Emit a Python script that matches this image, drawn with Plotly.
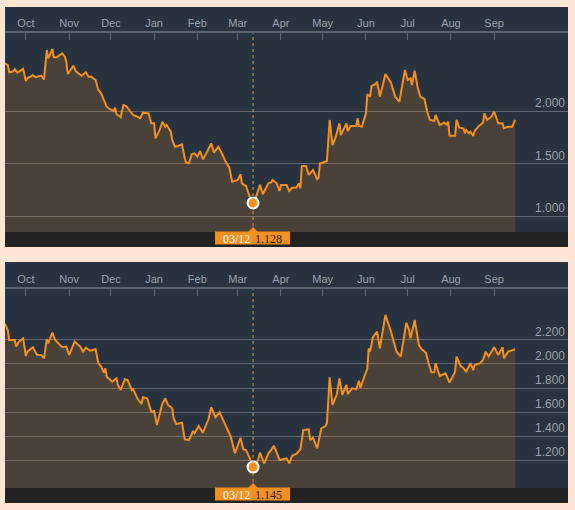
import plotly.graph_objects as go

# 数据
top_dates = [
    "2019-09-16", "2019-09-18", "2019-09-19", "2019-09-22", "2019-09-23", "2019-09-25", "2019-09-29",
    "2019-10-01", "2019-10-02", "2019-10-06", "2019-10-08", "2019-10-10", "2019-10-12", "2019-10-14",
    "2019-10-16", "2019-10-17", "2019-10-20", "2019-10-21", "2019-10-23", "2019-10-27", "2019-10-29",
    "2019-10-30", "2019-10-31", "2019-11-02", "2019-11-04", "2019-11-06", "2019-11-10", "2019-11-13",
    "2019-11-15", "2019-11-17", "2019-11-19", "2019-11-20", "2019-11-22", "2019-11-24", "2019-11-26",
    "2019-11-28", "2019-11-30", "2019-12-03", "2019-12-04", "2019-12-05", "2019-12-08", "2019-12-10",
    "2019-12-12", "2019-12-15", "2019-12-17", "2019-12-21", "2019-12-22", "2019-12-24", "2019-12-28",
    "2019-12-30", "2020-01-01", "2020-01-02", "2020-01-05", "2020-01-07", "2020-01-09", "2020-01-10",
    "2020-01-13", "2020-01-14", "2020-01-16", "2020-01-18", "2020-01-21", "2020-01-23", "2020-01-24",
    "2020-01-26", "2020-01-28", "2020-01-30", "2020-02-01", "2020-02-03", "2020-02-05", "2020-02-08",
    "2020-02-11", "2020-02-13", "2020-02-16", "2020-02-19", "2020-02-21", "2020-02-24", "2020-02-26",
    "2020-03-01", "2020-03-03", "2020-03-04", "2020-03-07", "2020-03-10", "2020-03-12", "2020-03-14",
    "2020-03-17", "2020-03-19", "2020-03-23", "2020-03-25", "2020-03-26", "2020-03-29", "2020-03-31",
    "2020-04-01", "2020-04-05", "2020-04-07", "2020-04-09", "2020-04-12", "2020-04-14", "2020-04-15",
    "2020-04-16", "2020-04-19", "2020-04-21", "2020-04-24", "2020-04-27", "2020-04-28", "2020-04-29",
    "2020-04-30", "2020-05-04", "2020-05-06", "2020-05-08", "2020-05-10", "2020-05-13", "2020-05-14",
    "2020-05-18", "2020-05-19", "2020-05-21", "2020-05-25", "2020-05-26", "2020-05-27", "2020-05-29",
    "2020-06-01", "2020-06-02", "2020-06-04", "2020-06-05", "2020-06-08", "2020-06-09", "2020-06-11",
    "2020-06-15", "2020-06-19", "2020-06-22", "2020-06-25", "2020-06-27", "2020-06-29", "2020-07-01",
    "2020-07-03", "2020-07-04", "2020-07-06", "2020-07-08", "2020-07-10", "2020-07-13", "2020-07-15",
    "2020-07-17", "2020-07-20", "2020-07-21", "2020-07-24", "2020-07-27", "2020-07-29", "2020-07-30",
    "2020-07-31", "2020-08-04", "2020-08-05", "2020-08-07", "2020-08-10", "2020-08-11", "2020-08-12",
    "2020-08-14", "2020-08-15", "2020-08-17", "2020-08-18", "2020-08-21", "2020-08-24", "2020-08-25",
    "2020-08-27", "2020-08-30", "2020-09-01", "2020-09-04", "2020-09-07", "2020-09-08", "2020-09-11",
    "2020-09-14", "2020-09-16",
]
top_vals = [
    2.453, 2.436, 2.367, 2.377, 2.396, 2.364, 2.400,
    2.285, 2.310, 2.339, 2.320, 2.325, 2.335, 2.300,
    2.579, 2.500, 2.588, 2.510, 2.510, 2.547, 2.515,
    2.468, 2.351, 2.389, 2.430, 2.373, 2.335, 2.367,
    2.325, 2.325, 2.304, 2.294, 2.200, 2.168, 2.104,
    2.041, 2.019, 2.000, 2.031, 1.972, 1.940, 2.057,
    2.047, 1.993, 1.962, 1.940, 1.931, 1.984, 1.978,
    1.883, 1.883, 1.740, 1.820, 1.898, 1.851, 1.867,
    1.804, 1.725, 1.661, 1.668, 1.684, 1.551, 1.510,
    1.504, 1.589, 1.598, 1.566, 1.620, 1.542, 1.614,
    1.693, 1.604, 1.661, 1.589, 1.528, 1.462, 1.329,
    1.345, 1.400, 1.314, 1.288, 1.172, 1.128, 1.180,
    1.300, 1.210, 1.314, 1.323, 1.345, 1.314, 1.241,
    1.298, 1.298, 1.241, 1.272, 1.272, 1.314, 1.267,
    1.478, 1.478, 1.393, 1.440, 1.355, 1.367, 1.504,
    1.504, 1.526, 1.915, 1.677, 1.741, 1.883, 1.772,
    1.883, 1.810, 1.858, 1.858, 1.931, 1.858, 1.851,
    1.978, 2.158, 2.136, 2.237, 2.256, 2.278, 2.136,
    2.351, 2.269, 2.136, 2.088, 2.231, 2.389, 2.294,
    2.310, 2.247, 2.383, 2.231, 2.136, 2.114, 1.993,
    1.915, 1.905, 1.962, 1.867, 1.889, 1.874, 1.898,
    1.766, 1.766, 1.915, 1.842, 1.836, 1.788, 1.820,
    1.788, 1.804, 1.763, 1.810, 1.858, 1.889, 1.978,
    1.915, 1.946, 1.993, 1.883, 1.883, 1.836, 1.851,
    1.851, 1.915,
]

bottom_dates = [
    "2019-09-16", "2019-09-18", "2019-09-19", "2019-09-23", "2019-09-24", "2019-09-26", "2019-09-29",
    "2019-10-01", "2019-10-02", "2019-10-06", "2019-10-09", "2019-10-12", "2019-10-14", "2019-10-16",
    "2019-10-17", "2019-10-20", "2019-10-22", "2019-10-27", "2019-10-30", "2019-11-01", "2019-11-05",
    "2019-11-09", "2019-11-11", "2019-11-13", "2019-11-16", "2019-11-20", "2019-11-22", "2019-11-24",
    "2019-11-26", "2019-11-27", "2019-11-28", "2019-12-02", "2019-12-05", "2019-12-06", "2019-12-08",
    "2019-12-11", "2019-12-13", "2019-12-16", "2019-12-17", "2019-12-20", "2019-12-23", "2019-12-24",
    "2019-12-27", "2019-12-30", "2020-01-01", "2020-01-03", "2020-01-07", "2020-01-09", "2020-01-11",
    "2020-01-14", "2020-01-15", "2020-01-17", "2020-01-21", "2020-01-23", "2020-01-26", "2020-01-29",
    "2020-01-30", "2020-02-02", "2020-02-05", "2020-02-09", "2020-02-11", "2020-02-14", "2020-02-17",
    "2020-02-22", "2020-02-25", "2020-02-28", "2020-03-03", "2020-03-05", "2020-03-07", "2020-03-10",
    "2020-03-12", "2020-03-15", "2020-03-17", "2020-03-20", "2020-03-23", "2020-03-25", "2020-03-27",
    "2020-03-29", "2020-03-31", "2020-04-05", "2020-04-07", "2020-04-09", "2020-04-12", "2020-04-15",
    "2020-04-17", "2020-04-21", "2020-04-22", "2020-04-24", "2020-04-27", "2020-04-30", "2020-05-03",
    "2020-05-04", "2020-05-06", "2020-05-08", "2020-05-11", "2020-05-13", "2020-05-15", "2020-05-18",
    "2020-05-19", "2020-05-22", "2020-05-25", "2020-05-27", "2020-05-28", "2020-05-30", "2020-06-02",
    "2020-06-03", "2020-06-04", "2020-06-06", "2020-06-09", "2020-06-11", "2020-06-15", "2020-06-19",
    "2020-06-23", "2020-06-26", "2020-06-30", "2020-07-02", "2020-07-03", "2020-07-06", "2020-07-09",
    "2020-07-11", "2020-07-14", "2020-07-16", "2020-07-18", "2020-07-20", "2020-07-21", "2020-07-24",
    "2020-07-28", "2020-07-29", "2020-07-31", "2020-08-04", "2020-08-05", "2020-08-08", "2020-08-10",
    "2020-08-12", "2020-08-15", "2020-08-17", "2020-08-18", "2020-08-22", "2020-08-24", "2020-08-26",
    "2020-08-28", "2020-09-01", "2020-09-04", "2020-09-07", "2020-09-08", "2020-09-11", "2020-09-16",
]
bottom_vals = [
    2.332, 2.282, 2.199, 2.199, 2.144, 2.185, 2.213,
    2.066, 2.102, 2.139, 2.075, 2.075, 2.047, 2.205,
    2.171, 2.260, 2.199, 2.139, 2.144, 2.075, 2.185,
    2.144, 2.102, 2.135, 2.110, 2.122, 2.006, 1.978,
    1.928, 1.964, 1.895, 1.853, 1.881, 1.826, 1.784,
    1.873, 1.867, 1.784, 1.790, 1.715, 1.668, 1.724,
    1.715, 1.604, 1.610, 1.494, 1.674, 1.715, 1.660,
    1.632, 1.549, 1.502, 1.513, 1.375, 1.369, 1.444,
    1.425, 1.485, 1.430, 1.541, 1.641, 1.558, 1.599,
    1.466, 1.397, 1.259, 1.388, 1.292, 1.286, 1.209,
    1.145, 1.181, 1.264, 1.176, 1.259, 1.286, 1.320,
    1.264, 1.203, 1.217, 1.176, 1.239, 1.253, 1.292,
    1.452, 1.458, 1.369, 1.388, 1.300, 1.466, 1.485,
    1.508, 1.890, 1.660, 1.743, 1.881, 1.743, 1.826,
    1.751, 1.798, 1.790, 1.861, 1.803, 1.867, 1.964,
    2.130, 2.102, 2.222, 2.268, 2.130, 2.407, 2.268,
    2.102, 2.061, 2.343, 2.282, 2.213, 2.365, 2.158,
    2.122, 2.094, 2.006, 1.931, 1.931, 2.006, 1.900,
    1.923, 1.900, 1.845, 1.936, 2.061, 1.983, 1.964,
    1.936, 2.006, 1.950, 1.992, 2.006, 2.033, 2.102,
    2.061, 2.139, 2.075, 2.139, 2.047, 2.102, 2.122,
]

top_ticks = [1.0, 1.5, 2.0]
bottom_ticks = [1.2, 1.4, 1.6, 1.8, 2.0, 2.2]
highlight_date = "2020-03-12"

W, H = 575, 510
NAVY = "#29323f"
ORANGE = "#f29020"
TEXT = "#9aa3ad"
AXIS = "#5c6570"


def py(p):
    return 1 - p / H


# 每个面板: (日期, 数值, 刻度, y范围, 面板上沿, 坐标轴线, 绘图区下沿, 底条下沿)
panels = [
    (top_dates, top_vals, top_ticks, [0.852, 2.74], 7, 33, 232, 247),
    (bottom_dates, bottom_vals, bottom_ticks, [0.971, 2.622], 262, 289, 488, 503),
]

fig = go.Figure()
shapes, annotations = [], []
x_dom = [5 / W, 568 / W]

for i, (dates, vals, ticks, yr, p_top, ax_y, p_bot, strip_bot) in enumerate(panels):
    n = "" if i == 0 else str(i + 1)
    fig.add_trace(go.Scatter(x=dates, y=vals, mode="lines", line=dict(color=ORANGE, width=2),
                             fill="tozeroy", fillcolor="rgba(247,147,30,0.16)",
                             xaxis="x" + n, yaxis="y" + n, hoverinfo="skip"))
    hv = vals[dates.index(highlight_date)]
    fig.add_trace(go.Scatter(x=[highlight_date], y=[hv], mode="markers",
                             marker=dict(size=11, color=ORANGE, line=dict(color="white", width=2)),
                             xaxis="x" + n, yaxis="y" + n, hoverinfo="skip"))

    fig.update_layout({
        "xaxis" + n: dict(domain=x_dom, anchor="y" + n, type="date", side="top",
                          range=["2019-09-16", "2020-10-24"], dtick="M1", tick0="2019-10-01",
                          tickformat="%b", ticks="inside", ticklen=7, tickcolor=AXIS, tickwidth=1,
                          showline=True, linecolor=AXIS, linewidth=2, showgrid=False, zeroline=False,
                          tickfont=dict(family="Liberation Sans", size=11, color=TEXT), fixedrange=True),
        "yaxis" + n: dict(domain=[py(p_bot), py(ax_y)], anchor="x" + n, range=yr, side="right",
                          tickvals=ticks, tickformat=".3f", ticklabelposition="inside top",
                          showgrid=True, gridcolor="#636a73", gridwidth=1, zeroline=False,
                          showline=False, ticks="",
                          tickfont=dict(family="Liberation Sans", size=12, color=TEXT), fixedrange=True),
    })

    # 面板头部和底条
    shapes.append(dict(type="rect", xref="paper", yref="paper", x0=x_dom[0], x1=x_dom[1],
                       y0=py(ax_y), y1=py(p_top), fillcolor=NAVY, line=dict(width=0), layer="below"))
    shapes.append(dict(type="rect", xref="paper", yref="paper", x0=x_dom[0], x1=x_dom[1],
                       y0=py(strip_bot), y1=py(p_bot), fillcolor="#232323", line=dict(width=0), layer="below"))
    # 虚线
    shapes.append(dict(type="line", xref="x" + n, yref="paper", x0=highlight_date, x1=highlight_date,
                       y0=py(p_bot), y1=py(ax_y), line=dict(color="#e0a22a", width=1, dash="dot")))
    # 标签框
    shapes.append(dict(type="rect", xref="x" + n, xsizemode="pixel", xanchor=highlight_date,
                       x0=-38, x1=37, yref="paper", y0=py(p_bot + 12.5), y1=py(p_bot - 0.5),
                       fillcolor=ORANGE, line=dict(width=0)))
    shapes.append(dict(type="path", xref="x" + n, xsizemode="pixel", xanchor=highlight_date,
                       yref="paper", ysizemode="pixel", yanchor=py(p_bot),
                       path="M-5,0 L5,0 L0,5 Z", fillcolor=ORANGE, line=dict(width=0)))
    lab_y = py(p_bot + 6.5)
    md = highlight_date[5:7] + "/" + highlight_date[8:10]
    annotations.append(dict(xref="x" + n, yref="paper", x=highlight_date, y=lab_y, xshift=-17,
                            text=md, showarrow=False, yanchor="middle",
                            font=dict(family="Liberation Serif", size=12, color="white")))
    annotations.append(dict(xref="x" + n, yref="paper", x=highlight_date, y=lab_y, xshift=15,
                            text=f"{hv:.3f}", showarrow=False, yanchor="middle",
                            font=dict(family="Liberation Serif", size=12, color="#2b1d0e")))

fig.update_layout(
    width=W, height=H,
    margin=dict(l=0, r=0, t=0, b=0),
    paper_bgcolor="#fde6d6",
    plot_bgcolor=NAVY,
    showlegend=False,
    shapes=shapes,
    annotations=annotations,
)

# 去掉页面默认的 body 边距
fig.write_html("out.html", config={"displayModeBar": False},
               post_script="document.body.style.margin='0';")
